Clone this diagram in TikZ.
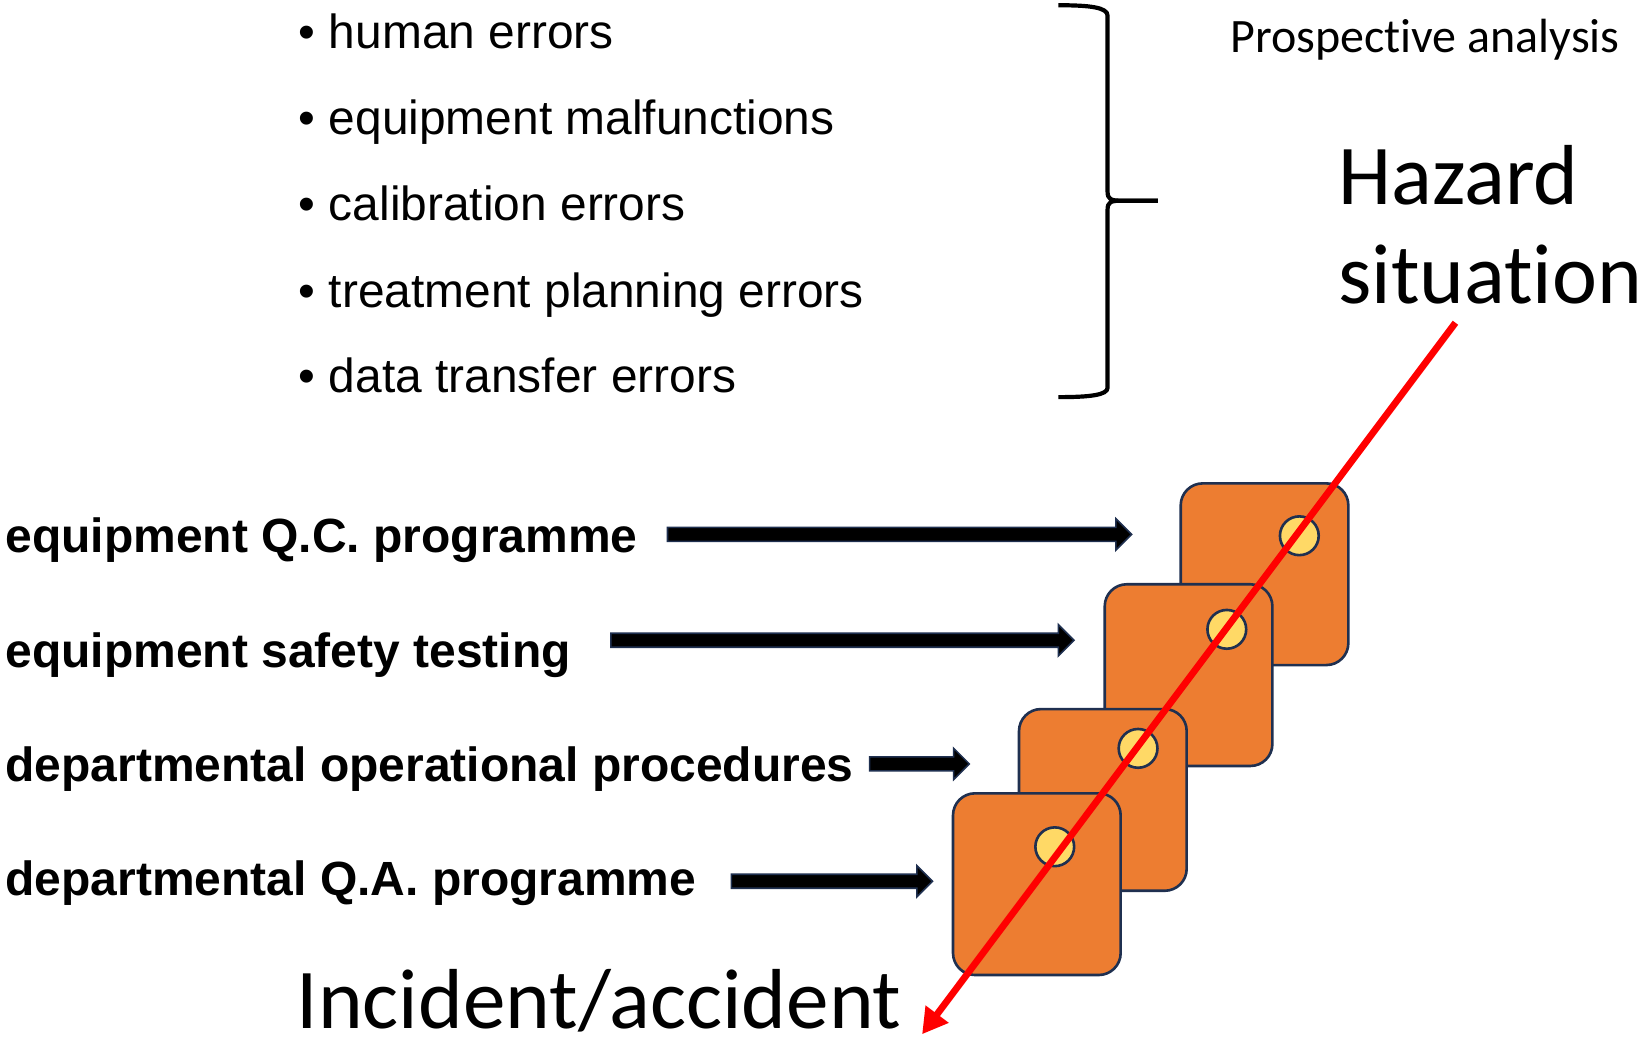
\documentclass[tikz,border=0pt]{standalone}
\usepackage{fontspec}
\setmainfont{Liberation Sans}
\newfontfamily\calfont[Ligatures={NoCommon,NoContextual}]{Carlito}
\usetikzlibrary{arrows.meta}

\definecolor{cardorange}{HTML}{ED7D31}
\definecolor{cardedge}{HTML}{1F3050}
\definecolor{holefill}{HTML}{FFD966}
\definecolor{hazardred}{HTML}{FF0000}

% block arrow: \guardarrow{name}{x start}{x tip}{y}
\newcommand\guardarrow[4]{%
  \filldraw[blockarrow] (#2,#4-6.7) -- (#3-15,#4-6.7) -- (#3-15,#4-15)
    -- (#3,#4) -- (#3-15,#4+15) -- (#3-15,#4+6.7) -- (#2,#4+6.7) -- cycle;
  \coordinate (#1) at (#3,#4);}

\begin{document}
\begin{tikzpicture}[x=1pt,y=-1pt,
  bullettext/.style={anchor=base west, inner sep=0pt, font=\fontsize{45.7}{50}\selectfont},
  guardlabel/.style={anchor=base west, inner sep=0pt, font=\fontsize{45.8}{50}\selectfont\bfseries},
  smallcal/.style={anchor=base west, inner sep=0pt, font=\calfont\fontsize{45.8}{50}\selectfont},
  bigcal/.style={anchor=base west, inner sep=0pt, font=\calfont\fontsize{81.3}{90}\selectfont},
  card/.style={draw=cardedge, fill=cardorange, line width=2.5pt, rounded corners=21pt,
    minimum width=160pt, minimum height=173.4pt, inner sep=0pt},
  hole/.style={circle, draw=cardedge, fill=holefill, line width=2.5pt,
    minimum size=37pt, inner sep=0pt},
  blockarrow/.style={fill=black, draw=cardedge, line width=1.5pt, line join=miter},
  bracket/.style={draw=black, line width=4pt},
  breach/.style={draw=hazardred, line width=6.5pt, -{Triangle[length=24pt,width=26pt]}}]

\useasboundingbox (0,0) rectangle (1568,991);

% list of error sources
\node[bullettext] (e1) at (285,46)  {\textbullet\ human errors};
\node[bullettext] (e2) at (285,128) {\textbullet\ equipment malfunctions};
\node[bullettext] (e3) at (285,210) {\textbullet\ calibration errors};
\node[bullettext] (e4) at (285,293) {\textbullet\ treatment planning errors};
\node[bullettext] (e5) at (285,375) {\textbullet\ data transfer errors};

% right brace grouping the list
\draw[bracket] (1010,5) .. controls (1040,5) and (1057,7) .. (1057,15)
  -- (1057,183) .. controls (1057,190) and (1060,191.5) .. (1070,191.5) -- (1105,191.5);
\draw[bracket] (1105,191.5) -- (1070,191.5) .. controls (1060,191.5) and (1057,193) .. (1057,200)
  -- (1057,370) .. controls (1057,377) and (1040,379) .. (1010,379);

\node[smallcal] (pa) at (1174,50) {Prospective analysis};
\node[bigcal] (hz1) at (1277,195) {Hazard};
% the kern keeps "t" and "i" as separate glyphs
\node[bigcal] (hz2) at (1277,290) {situat\kern0pt ion};
\node[bigcal] (inc) at (283,982) {Incident/accident};

% layers of defence
\node[guardlabel] (g1) at (5,527) {equipment Q.C. programme};
\node[guardlabel] (g2) at (5,637) {equipment safety testing};
\node[guardlabel] (g3) at (5,746) {departmental operational procedures};
\node[guardlabel] (g4) at (5,855) {departmental Q.A. programme};

\guardarrow{a1}{637}{1080}{510}
\guardarrow{a2}{583}{1025}{611}
\guardarrow{a3}{830}{925}{729}
\guardarrow{a4}{698}{890}{841}

% stacked barriers with holes
\node[card] (s1) at (1206.8,548) {};
\node[hole] (h1) at (1240,511.3) {};
\node[card] (s2) at (1134.3,644.3) {};
\node[hole] (h2) at (1170.8,600.6) {};
\node[card] (s3) at (1052.5,763.4) {};
\node[hole] (h3) at (1086.1,714.2) {};
\node[card] (s4) at (989.5,843.8) {};
\node[hole] (h4) at (1006.6,808.1) {};

% trajectory through the holes
\coordinate (start) at (1389,308);
\coordinate (tip) at (880,987);
\draw[breach] (start) -- (tip);

\end{tikzpicture}
\end{document}
